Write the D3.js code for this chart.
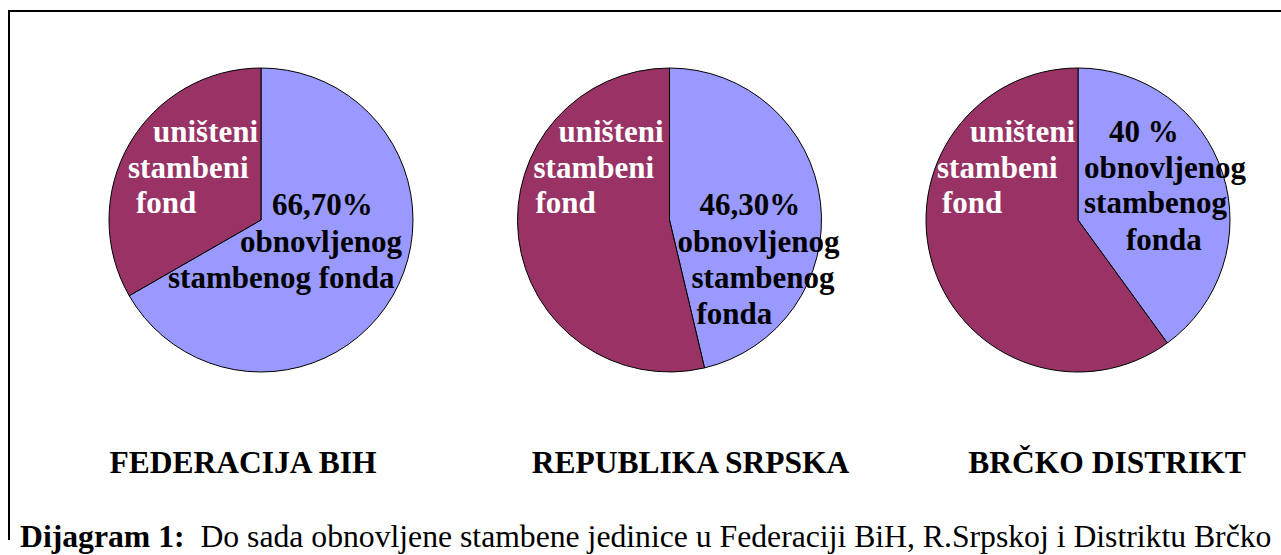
<!DOCTYPE html>
<html>
<head>
<meta charset="utf-8">
<script src="https://cdn.jsdelivr.net/npm/d3@7"></script>
<style>
  body { margin: 0; background: #fff; }
  svg { display: block; }
</style>
</head>
<body>
<svg class="pies_svg" width="1281" height="555"></svg>
<script>
// data
const regions = ["FEDERACIJA BIH", "REPUBLIKA SRPSKA", "BRČKO DISTRIKT"]
const obnovljeno = [66.7, 46.3, 40]
const unisteno = [33.3, 53.7, 60]
const obnovljenoLabels = [
    ["66,70%", "obnovljenog", "stambenog fonda"],
    ["46,30%", "obnovljenog", "stambenog", "fonda"],
    ["40 %", "obnovljenog", "stambenog", "fonda"]
]
const unistenoLabel = ["uništeni", "stambeni", "fond"]
const caption = ["Dijagram 1:", "  Do sada obnovljene stambene jedinice u Federaciji BiH, R.Srpskoj i Distriktu Brčko"]

// label placement, offsets from each pie centre
const redOffsets = [
    { dx: [-108, -133, -125], dy: [-78, -42, -7] },
    { dx: [-111, -136, -134], dy: [-78, -42, -7] },
    { dx: [-108, -141, -136], dy: [-78, -42, -7] }
]
const blueOffsets = [
    { dx: [11, -21, -93], dy: [-5, 32, 68] },
    { dx: [30, 8, 22, 27], dy: [-5, 32, 68, 104] },
    { dx: [31, 6, 6, 48], dy: [-78, -42, -7, 30] }
]
const titleShift = [-18, 21, 29]

const svg = d3.select("svg.pies_svg")
const radius = 152
const cy = 220
const x = d3.scalePoint().domain(regions).range([261, 1078])
const colors = ["#9999ff", "#993366"]
const serif = "'Liberation Serif', 'Times New Roman', serif"

// frame (only top and left edges show)
svg.append("path")
    .attr("d", "M9,540 V11 H1281")
    .attr("fill", "none")
    .attr("stroke", "#000")
    .attr("stroke-width", 2)

const pie = d3.pie().sort(null).value(d => d)
const arc = d3.arc().innerRadius(0).outerRadius(radius)

regions.forEach((name, i) => {
    const g = svg.append("g")
        .attr("transform", `translate(${x(name)},${cy})`)

    g.selectAll("path")
        .data(pie([obnovljeno[i], unisteno[i]]))
        .join("path")
        .attr("d", arc)
        .attr("fill", (d, j) => colors[j])
        .attr("stroke", "#000")
        .attr("stroke-width", 1)

    g.selectAll("text.red")
        .data(unistenoLabel)
        .join("text")
        .attr("class", "red")
        .attr("x", (d, j) => redOffsets[i].dx[j])
        .attr("y", (d, j) => redOffsets[i].dy[j])
        .attr("fill", "#fff")
        .attr("font-family", serif)
        .attr("font-weight", "bold")
        .attr("font-size", 31)
        .text(d => d)

    g.selectAll("text.blue")
        .data(obnovljenoLabels[i])
        .join("text")
        .attr("class", "blue")
        .attr("x", (d, j) => blueOffsets[i].dx[j])
        .attr("y", (d, j) => blueOffsets[i].dy[j])
        .attr("fill", "#000")
        .attr("font-family", serif)
        .attr("font-weight", "bold")
        .attr("font-size", 31)
        .text(d => d)

    svg.append("text")
        .attr("x", x(name) + titleShift[i])
        .attr("y", 473)
        .attr("text-anchor", "middle")
        .attr("font-family", serif)
        .attr("font-weight", "bold")
        .attr("font-size", 31.5)
        .text(name)
})

// caption, scaled to span the same width as the original
const cap = svg.append("text")
    .attr("x", 20)
    .attr("y", 547)
    .attr("font-family", serif)
    .attr("font-size", 28)
    .style("white-space", "pre")
cap.append("tspan").attr("font-weight", "bold").text(caption[0])
cap.append("tspan").text(caption[1])
const w = cap.node().getComputedTextLength()
cap.attr("font-size", 28 * 1252 / w)
</script>
</body>
</html>
